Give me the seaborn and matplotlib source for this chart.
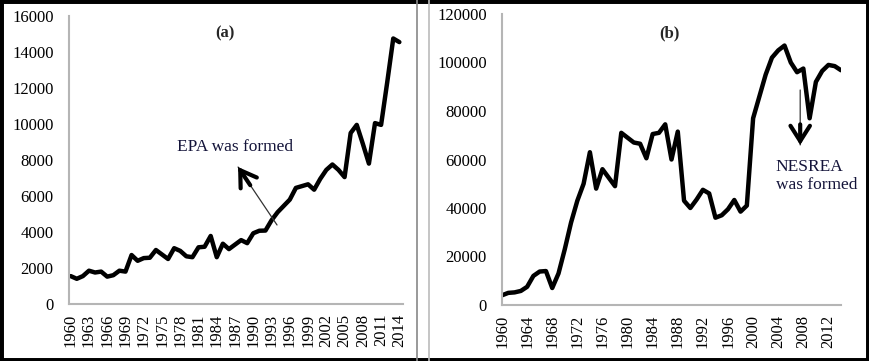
import numpy as np
import pandas as pd
import matplotlib
matplotlib.use("Agg")
import matplotlib.pyplot as plt
from matplotlib.patches import Rectangle
from matplotlib.lines import Line2D
import seaborn as sns

# data
years_a = list(range(1960, 2015))
vals_a = [1550, 1400, 1550, 1850, 1750, 1800, 1520, 1600, 1850, 1800,
          2720, 2400, 2550, 2570, 3000, 2750, 2500, 3100, 2950, 2650,
          2600, 3150, 3180, 3780, 2600, 3350, 3050, 3300, 3550, 3380,
          3930, 4070, 4080, 4650, 5100, 5450, 5800, 6450, 6550, 6650,
          6350, 6950, 7450, 7750, 7450, 7050, 9500, 9950, 8900, 7800,
          10050, 9950, 12300, 14750, 14550]

years_b = list(range(1960, 2015))
vals_b = [4000, 5000, 5200, 5800, 7500, 12000, 13800, 14000, 7000, 13000,
          23000, 34000, 43000, 50000, 63000, 48000, 56000, 52500, 49000, 71000,
          69000, 67000, 66500, 60500, 70500, 71000, 74500, 60000, 71500, 43000,
          40000, 43500, 47500, 46000, 36000, 37000, 39500, 43300, 38500, 41000,
          77000, 86000, 95000, 102000, 105000, 107000, 100000, 96000, 97500, 77000,
          92000, 96500, 99000, 98500, 96800]

df_a = pd.DataFrame({"year": years_a, "value": vals_a})
df_b = pd.DataFrame({"year": years_b, "value": vals_b})

sns.set_style("white")
plt.rcParams["font.family"] = ["Liberation Serif", "DejaVu Serif"]

W, H = 869, 361
fig = plt.figure(figsize=(W / 100, H / 100), dpi=100)

def box(l, t, r, b):
    return [l / W, 1 - b / H, (r - l) / W, (b - t) / H]

ax1 = fig.add_axes(box(69, 16, 403, 304))
ax2 = fig.add_axes(box(502, 14, 841, 305))

sns.lineplot(data=df_a, x="year", y="value", ax=ax1, color="black", lw=3.2,
             solid_joinstyle="round", solid_capstyle="round")
sns.lineplot(data=df_b, x="year", y="value", ax=ax2, color="black", lw=3.2,
             solid_joinstyle="round", solid_capstyle="round")

ax1.set_xlim(1959.72, 2014.6)
ax1.set_ylim(0, 16000)
ax1.set_yticks(range(0, 16001, 2000))
ax1.set_xticks(years_a[::3])
ax1.set_xticklabels([str(y) for y in years_a[::3]], rotation=90)

ax2.set_xlim(1960, 2014)
ax2.set_ylim(0, 120000)
ax2.set_yticks(range(0, 120001, 20000))
ax2.set_xticks(years_b[::4])
ax2.set_xticklabels([str(y) for y in years_b[::4]], rotation=90)

for ax in (ax1, ax2):
    ax.set_xlabel("")
    ax.set_ylabel("")
    for s in ("top", "right"):
        ax.spines[s].set_visible(False)
    for s in ("left", "bottom"):
        ax.spines[s].set_color("#b5b5b5")
        ax.spines[s].set_linewidth(1.5)
    ax.tick_params(axis="both", length=0, labelsize=12, colors="black")
    ax.tick_params(axis="y", pad=11)
    ax.tick_params(axis="x", pad=7)

head = dict(arrowstyle="->,head_length=0.55,head_width=0.35", mutation_scale=20,
            lw=3, color="black", shrinkA=0, shrinkB=0, joinstyle="miter")
thin = dict(arrowstyle="-", lw=0.9, color="#333333", shrinkA=0, shrinkB=0)

# panel labels and notes
ax1.text(1985.3, 15050, "(a)", ha="center", va="center", fontsize=12, fontweight="bold")
ax1.text(1987.0, 8720, "EPA was formed", ha="center", va="center", fontsize=12.5, color="#14143a")
ax1.annotate("", xy=(1987.5, 7610), xytext=(1993.9, 4390), arrowprops=thin)
ax1.annotate("", xy=(1987.5, 7610), xytext=(1989.5, 6600), arrowprops=head)

ax2.text(2003.6, 53300, "NESREA\nwas formed", ha="left", va="center", fontsize=12.5,
         color="#14143a", linespacing=1.15, clip_on=False)
ax2.annotate("", xy=(2007.5, 66000), xytext=(2007.5, 88660), arrowprops=thin)
ax2.annotate("", xy=(2007.5, 66000), xytext=(2007.5, 74500), arrowprops=head)
ax2.text(1986.75, 112200, "(b)", ha="center", va="center", fontsize=12, fontweight="bold")

# panel frames
fig.add_artist(Line2D([417 / W, 417 / W], [0, 1], transform=fig.transFigure, color="#888888", lw=1.2))
fig.add_artist(Line2D([429 / W, 429 / W], [0, 1], transform=fig.transFigure, color="#bbbbbb", lw=1.2))
fig.add_artist(Rectangle((0, 0), 1, 1, transform=fig.transFigure, fill=False,
                         edgecolor="black", lw=5))

fig.savefig("out.png", dpi=100)
